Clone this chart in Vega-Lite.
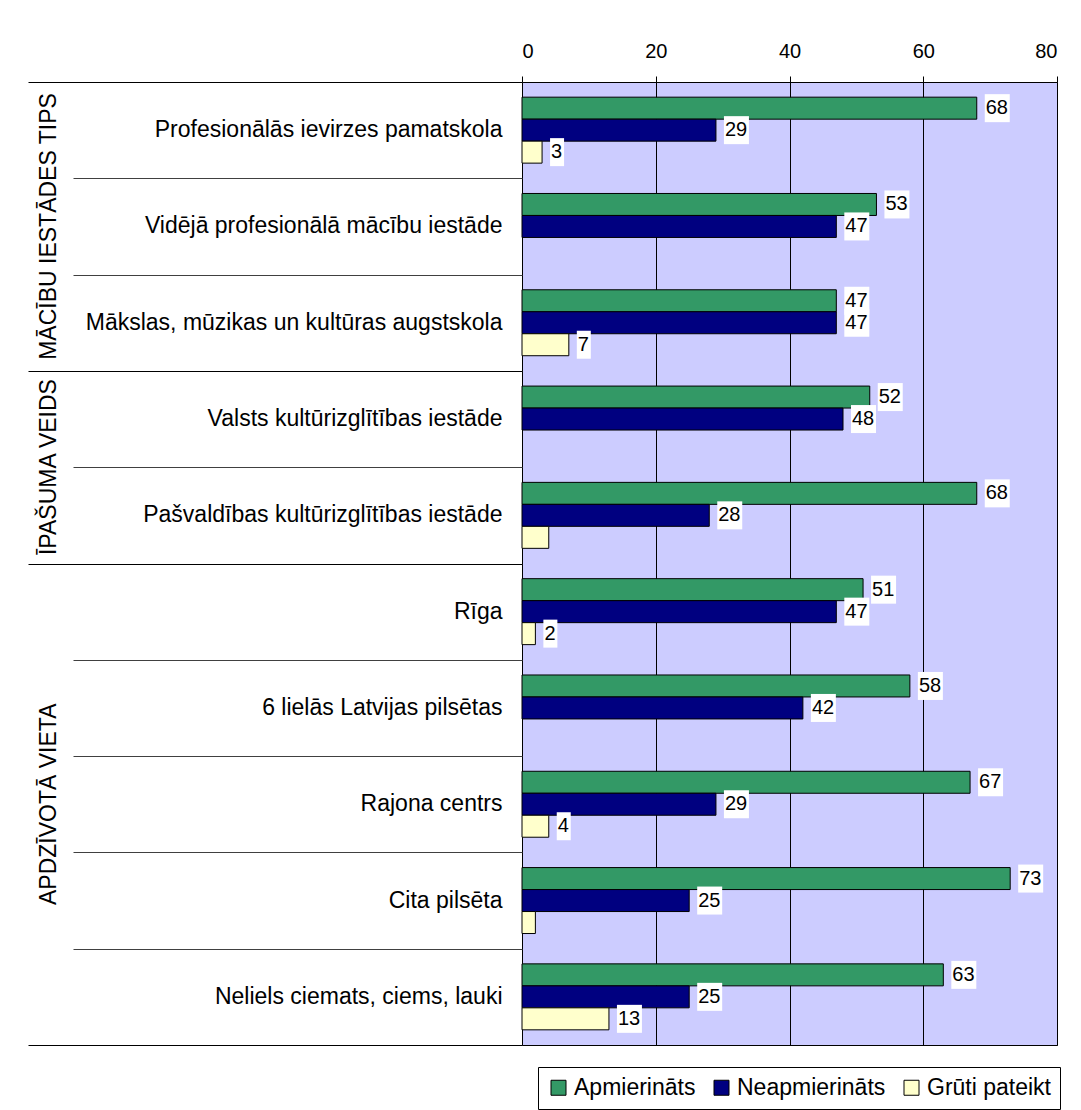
{
  "$schema": "https://vega.github.io/schema/vega-lite/v6.json",
  "autosize": "none",
  "padding": {"left": 522, "top": 82, "right": 24, "bottom": 65},
  "width": 535,
  "height": 963,
  "background": "white",
  "config": {
    "font": "Liberation Sans",
    "view": {"stroke": "black", "strokeWidth": 1, "fill": "#CCCCFF"},
    "axis": {"labelFont": "Liberation Sans", "labelColor": "black", "tickColor": "black", "domainColor": "black"}
  },
  "data": {
    "values": [
      {"cat": "Profesionālās ievirzes pamatskola", "series": "Apmierināts", "value": 68, "lbl": "68"},
      {"cat": "Profesionālās ievirzes pamatskola", "series": "Neapmierināts", "value": 29, "lbl": "29"},
      {"cat": "Profesionālās ievirzes pamatskola", "series": "Grūti pateikt", "value": 3, "lbl": "3"},
      {"cat": "Vidējā profesionālā mācību iestāde", "series": "Apmierināts", "value": 53, "lbl": "53"},
      {"cat": "Vidējā profesionālā mācību iestāde", "series": "Neapmierināts", "value": 47, "lbl": "47"},
      {"cat": "Mākslas, mūzikas un kultūras augstskola", "series": "Apmierināts", "value": 47, "lbl": "47"},
      {"cat": "Mākslas, mūzikas un kultūras augstskola", "series": "Neapmierināts", "value": 47, "lbl": "47"},
      {"cat": "Mākslas, mūzikas un kultūras augstskola", "series": "Grūti pateikt", "value": 7, "lbl": "7"},
      {"cat": "Valsts kultūrizglītības iestāde", "series": "Apmierināts", "value": 52, "lbl": "52"},
      {"cat": "Valsts kultūrizglītības iestāde", "series": "Neapmierināts", "value": 48, "lbl": "48"},
      {"cat": "Pašvaldības kultūrizglītības iestāde", "series": "Apmierināts", "value": 68, "lbl": "68"},
      {"cat": "Pašvaldības kultūrizglītības iestāde", "series": "Neapmierināts", "value": 28, "lbl": "28"},
      {"cat": "Pašvaldības kultūrizglītības iestāde", "series": "Grūti pateikt", "value": 4, "lbl": null},
      {"cat": "Rīga", "series": "Apmierināts", "value": 51, "lbl": "51"},
      {"cat": "Rīga", "series": "Neapmierināts", "value": 47, "lbl": "47"},
      {"cat": "Rīga", "series": "Grūti pateikt", "value": 2, "lbl": "2"},
      {"cat": "6 lielās Latvijas pilsētas", "series": "Apmierināts", "value": 58, "lbl": "58"},
      {"cat": "6 lielās Latvijas pilsētas", "series": "Neapmierināts", "value": 42, "lbl": "42"},
      {"cat": "Rajona centrs", "series": "Apmierināts", "value": 67, "lbl": "67"},
      {"cat": "Rajona centrs", "series": "Neapmierināts", "value": 29, "lbl": "29"},
      {"cat": "Rajona centrs", "series": "Grūti pateikt", "value": 4, "lbl": "4"},
      {"cat": "Cita pilsēta", "series": "Apmierināts", "value": 73, "lbl": "73"},
      {"cat": "Cita pilsēta", "series": "Neapmierināts", "value": 25, "lbl": "25"},
      {"cat": "Cita pilsēta", "series": "Grūti pateikt", "value": 2, "lbl": null},
      {"cat": "Neliels ciemats, ciems, lauki", "series": "Apmierināts", "value": 63, "lbl": "63"},
      {"cat": "Neliels ciemats, ciems, lauki", "series": "Neapmierināts", "value": 25, "lbl": "25"},
      {"cat": "Neliels ciemats, ciems, lauki", "series": "Grūti pateikt", "value": 13, "lbl": "13"}
    ]
  },
  "encoding": {
    "x": {
      "field": "value", "type": "quantitative",
      "scale": {"domain": [0, 80], "nice": false},
      "axis": {"orient": "top", "values": [0, 20, 40, 60, 80], "grid": true, "gridColor": "black", "gridOpacity": 1, "gridWidth": 1, "domain": false, "tickSize": 6, "tickColor": "black", "labelFontSize": 20, "labelPadding": 15, "title": null}
    }
  },
  "layer": [
    {
      "mark": {"type": "bar", "stroke": "black", "strokeWidth": 1},
      "encoding": {
        "y": {"field": "cat", "type": "nominal", "sort": ["Profesionālās ievirzes pamatskola", "Vidējā profesionālā mācību iestāde", "Mākslas, mūzikas un kultūras augstskola", "Valsts kultūrizglītības iestāde", "Pašvaldības kultūrizglītības iestāde", "Rīga", "6 lielās Latvijas pilsētas", "Rajona centrs", "Cita pilsēta", "Neliels ciemats, ciems, lauki"],
          "scale": {"paddingInner": 0, "paddingOuter": 0},
          "axis": {"orient": "left", "title": null, "domain": false, "ticks": false, "grid": false, "labelPadding": 20, "labelFontSize": 23, "labelLimit": 0}},
        "yOffset": {"field": "series", "type": "nominal", "sort": ["Apmierināts", "Neapmierināts", "Grūti pateikt"], "scale": {"paddingInner": 0, "paddingOuter": 0.69}},
        "color": {"field": "series", "type": "nominal", "sort": ["Apmierināts", "Neapmierināts", "Grūti pateikt"],
          "scale": {"domain": ["Apmierināts", "Neapmierināts", "Grūti pateikt"], "range": ["#339966", "#000080", "#FFFFCC"]},
          "legend": {"orient": "none", "legendX": 16, "legendY": 985, "direction": "horizontal", "title": null, "strokeColor": "black", "padding": 9, "symbolType": "square", "symbolSize": 225, "symbolStrokeColor": "black", "symbolStrokeWidth": 1, "symbolOpacity": 1, "labelFontSize": 23, "labelFont": "Liberation Sans", "labelColor": "black", "columnPadding": 14, "labelOffset": 4}}
      }
    },
    {
      "transform": [{"filter": "datum.lbl != null && length(datum.lbl) == 2"}],
      "mark": {"type": "bar", "fill": "white", "height": 28, "xOffset": 8, "x2Offset": 33},
      "encoding": {
        "x2": {"field": "value"},
        "y": {"field": "cat", "type": "nominal", "sort": ["Profesionālās ievirzes pamatskola", "Vidējā profesionālā mācību iestāde", "Mākslas, mūzikas un kultūras augstskola", "Valsts kultūrizglītības iestāde", "Pašvaldības kultūrizglītības iestāde", "Rīga", "6 lielās Latvijas pilsētas", "Rajona centrs", "Cita pilsēta", "Neliels ciemats, ciems, lauki"],
          "scale": {"paddingInner": 0, "paddingOuter": 0},
          "axis": {"orient": "left", "title": null, "domain": false, "labels": false, "ticks": true, "grid": false, "tickBand": "extent", "tickSize": 449, "tickColor": "#404040", "tickWidth": 1}},
        "yOffset": {"field": "series", "type": "nominal", "sort": ["Apmierināts", "Neapmierināts", "Grūti pateikt"]}
      }
    },
    {
      "transform": [{"filter": "datum.lbl != null && length(datum.lbl) == 1"}],
      "mark": {"type": "bar", "fill": "white", "height": 28, "xOffset": 8, "x2Offset": 22},
      "encoding": {
        "x2": {"field": "value"},
        "y": {"field": "cat", "type": "nominal", "sort": ["Profesionālās ievirzes pamatskola", "Vidējā profesionālā mācību iestāde", "Mākslas, mūzikas un kultūras augstskola", "Valsts kultūrizglītības iestāde", "Pašvaldības kultūrizglītības iestāde", "Rīga", "6 lielās Latvijas pilsētas", "Rajona centrs", "Cita pilsēta", "Neliels ciemats, ciems, lauki"],
          "scale": {"paddingInner": 0, "paddingOuter": 0},
          "axis": {"orient": "left", "title": null, "domain": false, "labels": false, "ticks": true, "grid": false, "tickBand": "extent", "tickSize": 494, "tickColor": "black", "tickWidth": 1,
            "tickOpacity": {"condition": {"test": "datum.extra || indexof(['Mākslas, mūzikas un kultūras augstskola', 'Pašvaldības kultūrizglītības iestāde', 'Neliels ciemats, ciems, lauki'], datum.value) >= 0", "value": 1}, "value": 0}}},
        "yOffset": {"field": "series", "type": "nominal", "sort": ["Apmierināts", "Neapmierināts", "Grūti pateikt"]}
      }
    },
    {
      "transform": [{"filter": "datum.lbl != null"}],
      "mark": {"type": "text", "align": "left", "baseline": "middle", "dx": 9, "fontSize": 20, "color": "black", "font": "Liberation Sans"},
      "encoding": {
        "text": {"field": "lbl"},
        "y": {"field": "cat", "type": "nominal", "sort": ["Profesionālās ievirzes pamatskola", "Vidējā profesionālā mācību iestāde", "Mākslas, mūzikas un kultūras augstskola", "Valsts kultūrizglītības iestāde", "Pašvaldības kultūrizglītības iestāde", "Rīga", "6 lielās Latvijas pilsētas", "Rajona centrs", "Cita pilsēta", "Neliels ciemats, ciems, lauki"],
          "scale": {"paddingInner": 0, "paddingOuter": 0},
          "axis": {"orient": "left", "title": null, "domain": false, "ticks": false, "grid": false,
            "labelExpr": "datum.value === 'Vidējā profesionālā mācību iestāde' ? 'MĀCĪBU IESTĀDES TIPS' : datum.value === 'Valsts kultūrizglītības iestāde' ? 'ĪPAŠUMA VEIDS' : datum.value === 'Rajona centrs' ? 'APDZĪVOTĀ VIETA' : ''",
            "labelAngle": 270, "labelAlign": "center", "labelBaseline": "alphabetic", "labelPadding": 467, "labelFontSize": 23, "labelLimit": 0, "labelOverlap": false,
            "labelOffset": {"condition": {"test": "datum.value === 'Valsts kultūrizglītības iestāde'", "value": 48}, "value": 0}}},
        "yOffset": {"field": "series", "type": "nominal", "sort": ["Apmierināts", "Neapmierināts", "Grūti pateikt"]}
      }
    }
  ],
  "resolve": {"axis": {"y": "independent"}}
}
